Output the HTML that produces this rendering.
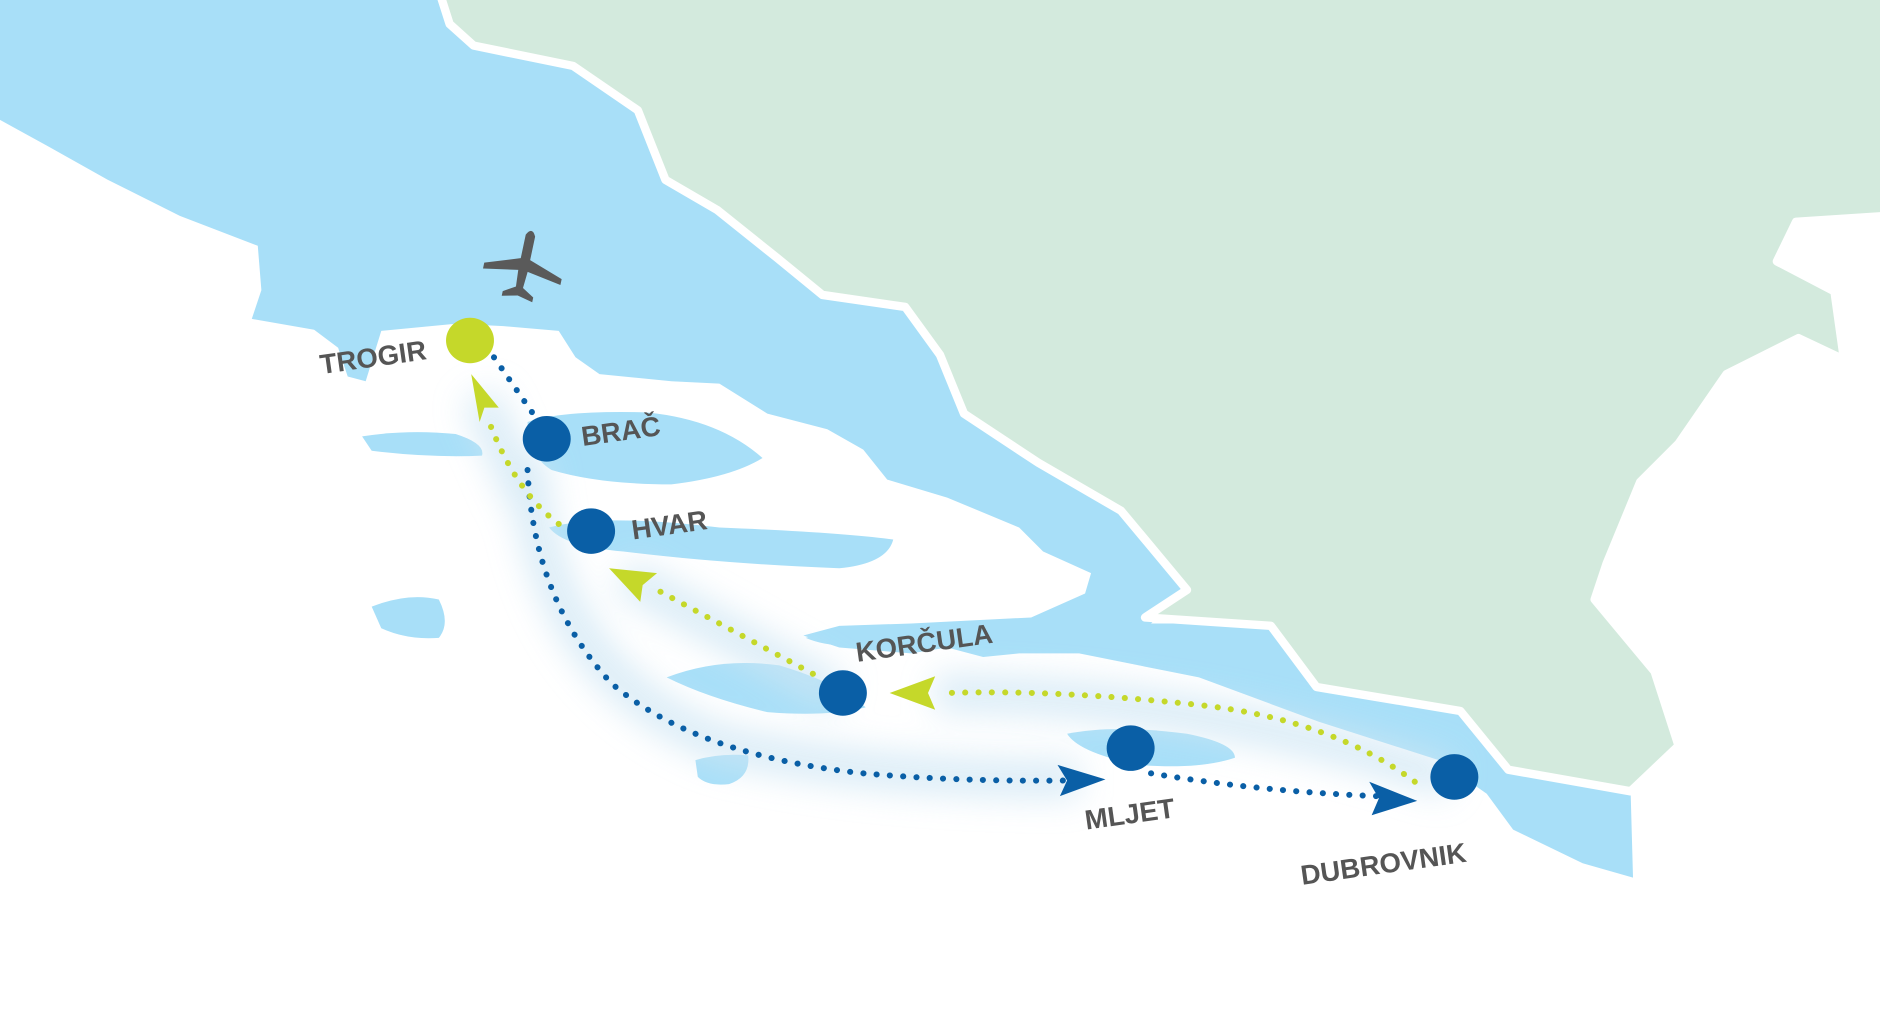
<!DOCTYPE html>
<html><head><meta charset="utf-8"><style>
html,body{margin:0;padding:0;background:#fff;}
svg{display:block;}
text{font-family:"Liberation Sans",sans-serif;font-weight:bold;fill:#555;font-size:23px;}
</style></head><body>
<svg width="1880" height="1016" viewBox="0 0 1568 847.4" preserveAspectRatio="none" xmlns="http://www.w3.org/2000/svg">
<defs>
<filter id="bl" x="-50%" y="-50%" width="200%" height="200%"><feGaussianBlur stdDeviation="14"/></filter>
</defs>
<rect width="1568" height="848" fill="#fff"/>
<!-- sea -->
<path fill="#a8dff8" d="M0,0 L370,0 L390,30 L480,50 L540,90 L560,150 L600,170 L650,210 L690,240 L760,250 L790,290 L810,340 L870,380 L940,420 L990,490 L960,520 L1060,520 L1100,570 L1220,590 L1260,640 L1360,660 L1362,732 L1320,720 L1262,692 L1240,662 L1200,634 L1100,602 L1000,565 L900,545 L850,545 L820,548 L790,540 L760,545 L700,540 L670,530 L700,522 L760,520 L860,515 L905,495 L910,478 L870,460 L850,440 L790,415 L740,400 L720,375 L690,358 L640,345 L600,320 L560,318 L500,312 L480,298 L466,276 L420,272 L380,270 L318,276 L305,318 L290,314 L282,290 L262,275 L210,266 L218,242 L215,205 L150,180 L90,150 L40,122 L0,100 Z"/>
<!-- land -->
<path fill="#d3eadd" stroke="#fff" stroke-width="7" stroke-linejoin="round" d="M367,-5 L375,20 L395,38 L478,55 L532,92 L555,150 L598,175 L648,215 L686,246 L755,256 L784,296 L804,345 L866,386 L935,426 L990,492 L955,515 L1060,522 L1098,573 L1218,593 L1258,642 L1360,660 L1400,622 L1380,560 L1330,500 L1340,470 L1368,402 L1400,370 L1440,312 L1500,282 L1538,300 L1530,243 L1482,218 L1498,185 L1575,180 L1575,-5 Z"/>
<!-- islands -->
<g fill="#a8dff8">
<path d="M440,352 Q470,342 540,344 Q600,350 636,382 Q610,398 560,404 Q500,404 460,392 Q440,380 440,352 Z"/>
<path d="M458,440 Q500,428 600,440 Q700,444 745,450 Q740,470 700,474 Q600,470 520,460 Q470,456 458,440 Z"/>
<path d="M302,364 Q340,358 380,362 Q405,370 402,380 Q360,382 310,376 Z"/>
<path d="M310,506 Q340,494 366,500 Q376,520 366,532 Q340,534 318,524 Z"/>
<path d="M556,565 Q600,548 650,555 Q700,570 722,590 Q690,598 640,594 Q590,582 556,565 Z"/>
<path d="M890,612 Q930,604 990,612 Q1030,620 1030,632 Q1000,642 950,638 Q900,628 890,612 Z"/>
<path d="M580,634 Q600,628 624,630 Q626,648 608,654 Q590,656 582,648 Z"/>
<path d="M672,532 Q690,526 720,528 L718,538 Q690,540 672,532 Z"/>
</g>
<!-- route glow -->
<g fill="none" stroke="#cfe6f4" stroke-width="30" filter="url(#bl)" opacity="0.8">
<path d="M440,380 Q450,560 600,620 Q720,650 900,650"/>
<path d="M520,480 L700,580 M780,578 Q1000,580 1210,650 M400,330 L440,420"/>
</g>
<!-- blue dotted -->
<g fill="none" stroke="#0a5fa6" stroke-width="5" stroke-linecap="round" stroke-dasharray="0.1 11">
<path d="M412,298 L448,350"/>
<path d="M440,392 Q445,500 510,570 Q580,630 720,645 Q800,652 888,651"/>
<path d="M960,645 Q1050,660 1148,664"/>
</g>
<!-- green dotted -->
<g fill="none" stroke="#c5d82a" stroke-width="5" stroke-linecap="round" stroke-dasharray="0.1 11">
<path d="M1180,652 Q1110,600 1000,588 Q880,575 790,578"/>
<path d="M678,562 L548,492"/>
<path d="M466,437 Q430,410 408,352"/>
</g>
<!-- arrowheads -->
<polygon fill="#0a5fa6" points="882,638 922,650 884,664 890,651"/>
<polygon fill="#0a5fa6" points="1142,652 1182,668 1144,680 1150,666"/>
<polygon fill="#c5d82a" points="742,578 780,564 774,578 780,592"/>
<polygon fill="#c5d82a" points="508,474 548,478 536,488 534,502"/>
<polygon fill="#c5d82a" points="393,312 416,340 404,340 400,352"/>
<!-- plane -->
<g fill="#5a5a5a" transform="translate(437,222) rotate(12)">
<path d="M-4,-26 Q0,-34 4,-26 L4,-6 L33,4 L33,9 L4,4 L3,18 L13,24 L13,28 L0,25 L-13,28 L-13,24 L-3,18 L-4,4 L-33,9 L-33,4 L-4,-6 Z"/>
</g>
<!-- labels -->
<text transform="translate(268,312) rotate(-8)">TROGIR</text>
<text transform="translate(486,372) rotate(-8)">BRAČ</text>
<text transform="translate(528,450) rotate(-8)">HVAR</text>
<text transform="translate(715,552) rotate(-8)">KORČULA</text>
<text transform="translate(906,692) rotate(-8)">MLJET</text>
<text transform="translate(1086,738) rotate(-8)">DUBROVNIK</text>
<!-- nodes -->
<ellipse cx="392" cy="284" rx="20" ry="19" fill="#c5d82a"/>
<ellipse cx="456" cy="366" rx="20" ry="19" fill="#0a5fa6"/>
<ellipse cx="493" cy="443" rx="20" ry="19" fill="#0a5fa6"/>
<ellipse cx="703" cy="578" rx="20" ry="19" fill="#0a5fa6"/>
<ellipse cx="943" cy="624" rx="20" ry="19" fill="#0a5fa6"/>
<ellipse cx="1213" cy="648" rx="20" ry="19" fill="#0a5fa6"/>
</svg>
</body></html>
